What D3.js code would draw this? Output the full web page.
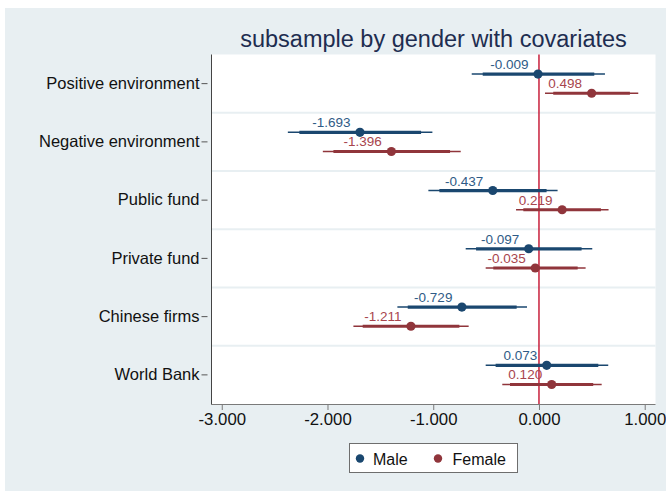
<!DOCTYPE html>
<html>
<head>
<meta charset="utf-8">
<script src="https://cdn.jsdelivr.net/npm/d3@7"></script>
<style>
  html, body { margin: 0; padding: 0; background: #ffffff; }
  svg { display: block; font-family: "Liberation Sans", Arial, sans-serif; }
</style>
</head>
<body>
<svg id="chart" width="666" height="491"></svg>
<script>
// Coefficient plot: subsample by gender with covariates
const categories = ["Positive environment", "Negative environment", "Public fund",
                    "Private fund", "Chinese firms", "World Bank"];

const maleCoef   = [-0.009, -1.693, -0.437, -0.097, -0.729, 0.073];
const maleLo95   = [-0.636, -2.375, -1.046, -0.693, -1.339, -0.504];
const maleHi95   = [ 0.624, -1.008,  0.176,  0.504, -0.113,  0.655];
const maleLo90   = [-0.532, -2.266, -0.942, -0.595, -1.241, -0.410];
const maleHi90   = [ 0.523, -1.115,  0.072,  0.403, -0.211,  0.561];

const femaleCoef = [ 0.498, -1.396,  0.219, -0.035, -1.211, 0.120];
const femaleLo95 = [ 0.057, -2.044, -0.217, -0.504, -1.755, -0.347];
const femaleHi95 = [ 0.939, -0.740,  0.658,  0.441, -0.665,  0.593];
const femaleLo90 = [ 0.135, -1.944, -0.148, -0.432, -1.667, -0.274];
const femaleHi90 = [ 0.860, -0.841,  0.586,  0.366, -0.753,  0.513];

const xTicks = [-3, -2, -1, 0, 1];
const seriesNames = ["Male", "Female"];

const colors = { Male: "#1a476f", Female: "#90353b" };
const labelColors = { Male: "#2f5b86", Female: "#a8454d" };

const series = [
  { name: "Male", offset: -9.6, coef: maleCoef, lo95: maleLo95, hi95: maleHi95, lo90: maleLo90, hi90: maleHi90 },
  { name: "Female", offset: 9.6, coef: femaleCoef, lo95: femaleLo95, hi95: femaleHi95, lo90: femaleLo90, hi90: femaleHi90 }
];

const W = 666, H = 491;
const plot = { left: 211.5, right: 655.5, top: 54.5, bottom: 404 };
const fmt = v => d3.format(".3f")(v).replace("\u2212", "-");

const svg = d3.select("#chart");

// outer graph region
svg.append("rect").attr("x", 5).attr("y", 8).attr("width", W - 5).attr("height", H - 8)
  .attr("fill", "#e8eff2");

const x = d3.scaleLinear().domain([-3.097, 1.102]).range([plot.left, plot.right]);
const y = d3.scaleBand().domain(categories).range([plot.top, plot.bottom]);
const yc = c => y(c) + y.bandwidth() / 2;

// plot region
svg.append("rect").attr("x", plot.left).attr("y", plot.top)
  .attr("width", plot.right - plot.left).attr("height", plot.bottom - plot.top)
  .attr("fill", "#ffffff");

// separators between categories
svg.append("g").selectAll("line").data(categories.slice(1)).join("line")
  .attr("x1", plot.left).attr("x2", plot.right)
  .attr("y1", d => y(d)).attr("y2", d => y(d))
  .attr("stroke", "#e8eff2").attr("stroke-width", 2);

// zero reference line
svg.append("line")
  .attr("x1", x(0)).attr("x2", x(0)).attr("y1", plot.top).attr("y2", plot.bottom)
  .attr("stroke", "#c8203c").attr("stroke-width", 1.5);

// x axis
const xAxis = d3.axisBottom(x).tickValues(xTicks).tickFormat(fmt).tickSize(6).tickPadding(3);
const gx = svg.append("g").attr("transform", `translate(0,${plot.bottom})`).call(xAxis);
gx.select(".domain").attr("stroke", "#7a7a7a").attr("d", `M${plot.left},0.5H${plot.right}`);
gx.selectAll(".tick line").attr("stroke", "#7a7a7a");
gx.selectAll(".tick text").attr("font-size", 16.8).attr("fill", "#111")
  .attr("font-family", "Liberation Sans, Arial, sans-serif");

// y axis
const yAxis = d3.axisLeft(y).tickSize(6).tickPadding(2);
const gy = svg.append("g").attr("transform", `translate(${plot.left - 4},0)`).call(yAxis);
gy.select(".domain").remove();
gy.selectAll(".tick line").attr("stroke", "#555");
gy.selectAll(".tick text").attr("font-size", 16.5).attr("fill", "#111")
  .attr("font-family", "Liberation Sans, Arial, sans-serif");
svg.append("line").attr("x1", plot.left).attr("x2", plot.left).attr("y1", plot.top).attr("y2", plot.bottom + 0.5)
  .attr("stroke", "#444").attr("stroke-width", 1);

// estimates with 95% (thin) and 90% (thick) intervals
series.forEach(s => {
  const g = svg.append("g");
  const rows = categories.map((c, i) => ({ c, i }));
  g.selectAll("line.ci95").data(rows).join("line").attr("class", "ci95")
    .attr("x1", d => x(s.lo95[d.i])).attr("x2", d => x(s.hi95[d.i]))
    .attr("y1", d => yc(d.c) + s.offset).attr("y2", d => yc(d.c) + s.offset)
    .attr("stroke", colors[s.name]).attr("stroke-width", 1.4);
  g.selectAll("line.ci90").data(rows).join("line").attr("class", "ci90")
    .attr("x1", d => x(s.lo90[d.i])).attr("x2", d => x(s.hi90[d.i]))
    .attr("y1", d => yc(d.c) + s.offset).attr("y2", d => yc(d.c) + s.offset)
    .attr("stroke", colors[s.name]).attr("stroke-width", 3.2);
  g.selectAll("circle").data(rows).join("circle")
    .attr("cx", d => x(s.coef[d.i])).attr("cy", d => yc(d.c) + s.offset).attr("r", 4.6)
    .attr("fill", colors[s.name]);
  g.selectAll("text").data(rows).join("text")
    .attr("x", d => x(s.coef[d.i]) - 9.5).attr("y", d => yc(d.c) + s.offset - 5)
    .attr("text-anchor", "end").attr("font-size", 13.5).attr("fill", labelColors[s.name])
    .text(d => fmt(s.coef[d.i]));
});

// title
svg.append("text").attr("x", (plot.left + plot.right) / 2).attr("y", 47)
  .attr("text-anchor", "middle").attr("font-size", 23.5).attr("fill", "#1e2d50")
  .text("subsample by gender with covariates");

// legend
const lg = svg.append("g");
lg.append("rect").attr("x", 349.5).attr("y", 443.5).attr("width", 168).attr("height", 29)
  .attr("fill", "#ffffff").attr("stroke", "#6e6e6e").attr("stroke-width", 1);
const legendItems = [{ name: "Male", dx: 360, tx: 373 }, { name: "Female", dx: 438, tx: 452.5 }];
legendItems.forEach(it => {
  lg.append("circle").attr("cx", it.dx).attr("cy", 458.5).attr("r", 4.2).attr("fill", colors[it.name]);
  lg.append("text").attr("x", it.tx).attr("y", 464.5).attr("font-size", 16).attr("fill", "#111").text(it.name);
});
</script>
</body>
</html>
